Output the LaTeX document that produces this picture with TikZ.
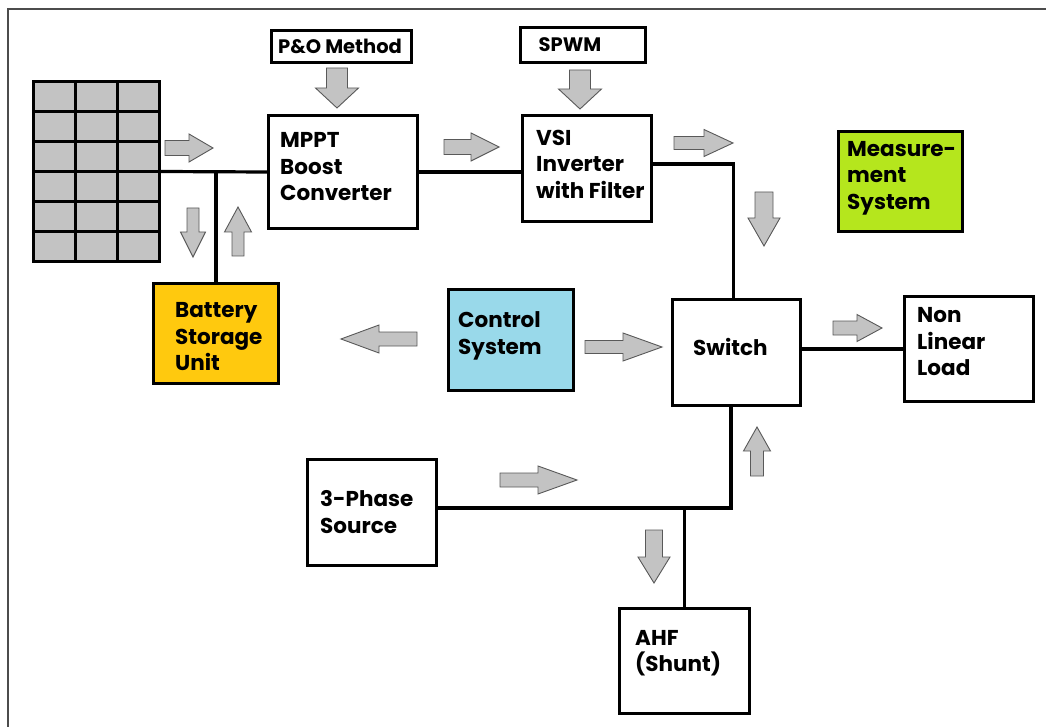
\documentclass[tikz,border=0pt]{standalone}
\usepackage{fontspec}
\setmainfont{Poppins}
\begin{document}
\begin{tikzpicture}[x=1pt,y=-1pt,
  box/.style={draw=black, line width=3.3pt, inner sep=0pt, fill=white},
  txt/.style={anchor=west, align=left, inner sep=0pt, font=\fontsize{21.5}{26.5}\selectfont\bfseries},
  smalltxt/.style={inner sep=0pt, font=\fontsize{19.5}{22}\selectfont\bfseries},
  wire/.style={draw=black, line width=3.2pt},
  barrow/.style={draw=black!65, line width=0.9pt, fill=arrowgray},
  frame/.style={draw=black!70, line width=1.2pt}]
\definecolor{arrowgray}{HTML}{C3C3C3}
\definecolor{battcol}{HTML}{FFC90E}
\definecolor{ctrlcol}{HTML}{99D9EA}
\definecolor{meascol}{HTML}{B5E61D}
\definecolor{cellgray}{HTML}{C3C3C3}
\newcommand\bArrow[7]{%
  \draw[barrow, shift={(#1,#2)}, rotate=#3] (0,-#5/2) -- ({#4-#7},-#5/2) -- ({#4-#7},-#6/2) -- (#4,0) -- ({#4-#7},#6/2) -- ({#4-#7},#5/2) -- (0,#5/2) -- cycle;}
\useasboundingbox (0,0) rectangle (1046,727);
\fill[white] (0,0) rectangle (1046,727);
\draw[frame] (8,727) -- (8,9) -- (1046,9);

% solar panel
\node[box, fill=cellgray, minimum width=126pt, minimum height=180pt] (pv) at (96.5,171.5) {};
\foreach \xx in {75.5,117.5} \draw[wire] (\xx,81.5) -- (\xx,261.5);
\foreach \yy in {111.5,141.5,171.5,201.5,231.5} \draw[wire] (33.5,\yy) -- (159.5,\yy);

% boxes
\node[box, minimum width=140pt, minimum height=32pt] (po) at (341.5,46.5) {};
\node[box, minimum width=125pt, minimum height=35pt] (spwm) at (583,45) {};
\node[box, minimum width=149pt, minimum height=113pt] (mppt) at (343,172) {};
\node[box, minimum width=129pt, minimum height=106pt] (vsi) at (587,168.5) {};
\node[box, fill=meascol, minimum width=124pt, minimum height=100pt] (meas) at (900.5,181.5) {};
\node[box, fill=battcol, minimum width=125pt, minimum height=100pt] (batt) at (216,333.5) {};
\node[box, fill=ctrlcol, minimum width=125pt, minimum height=101pt] (ctrl) at (511,340) {};
\node[box, minimum width=128pt, minimum height=106pt] (sw) at (736.5,352.5) {};
\node[box, minimum width=129pt, minimum height=105pt] (nll) at (969,349) {};
\node[box, minimum width=129pt, minimum height=106pt] (ph) at (372,512.5) {};
\node[box, minimum width=130pt, minimum height=105pt] (ahf) at (684.5,661) {};

% texts
\node[smalltxt] (tpo) at (340,46) {P\&O Method};
\node[smalltxt] (tspwm) at (570,45) {SPWM};
\node[txt] (tmppt) at (280,167) {MPPT\\Boost\\Converter};
\node[txt] (tvsi) at (536,164) {VSI\\Inverter\\with Filter};
\node[txt] (tmeas) at (847,178) {Measure-\\ment\\System};
\node[txt] (tbatt) at (175,337) {Battery\\Storage\\Unit};
\node[txt] (tctrl) at (458,336) {Control\\System};
\node[txt] (tsw) at (693,347) {Switch};
\node[txt] (tnll) at (917,342) {Non\\Linear\\Load};
\node[txt] (tph) at (320,512) {3-Phase\\Source};
\node[txt] (tahf) at (635,653) {AHF\\(Shunt)};

% wires
\draw[wire] (pv.east) -- (mppt.west);
\draw[wire] (batt.north) -- (batt.north |- mppt.west);
\draw[wire] (mppt.east) -- (mppt.east -| vsi.west);
\draw[wire] ([yshift=4.5pt]vsi.east) -| ([xshift=-3pt]sw.north);
\draw[wire] (sw.east |- nll.west) -- (nll.west);
\coordinate (bus) at ([yshift=4.5pt]ph.east);
\draw[wire] ([xshift=-5.5pt]sw.south) |- (bus);
\draw[wire] (ahf.north) -- (ahf.north |- bus);

% block arrows
\bArrow{165}{148}{0}{48}{15}{28}{24}
\bArrow{193}{208}{-90}{49}{12}{25}{25}
\bArrow{238}{256}{90}{49}{12}{27}{25}
\bArrow{337}{68}{-90}{40}{21}{43}{20}
\bArrow{444}{147}{0}{55}{15}{28}{28}
\bArrow{580}{70}{-90}{39}{21}{43}{20}
\bArrow{674}{143}{0}{59}{13}{27}{29}
\bArrow{764}{192}{-90}{54}{18}{32}{28}
\bArrow{417}{339}{180}{76}{14}{28}{38}
\bArrow{585}{347}{0}{77}{13}{28}{39}
\bArrow{833}{328}{0}{49}{14}{27}{25}
\bArrow{500}{480}{0}{77}{14}{28}{39}
\bArrow{757}{476}{90}{49}{13}{27}{24}
\bArrow{654}{530}{-90}{53}{17}{32}{26}
\end{tikzpicture}
\end{document}
